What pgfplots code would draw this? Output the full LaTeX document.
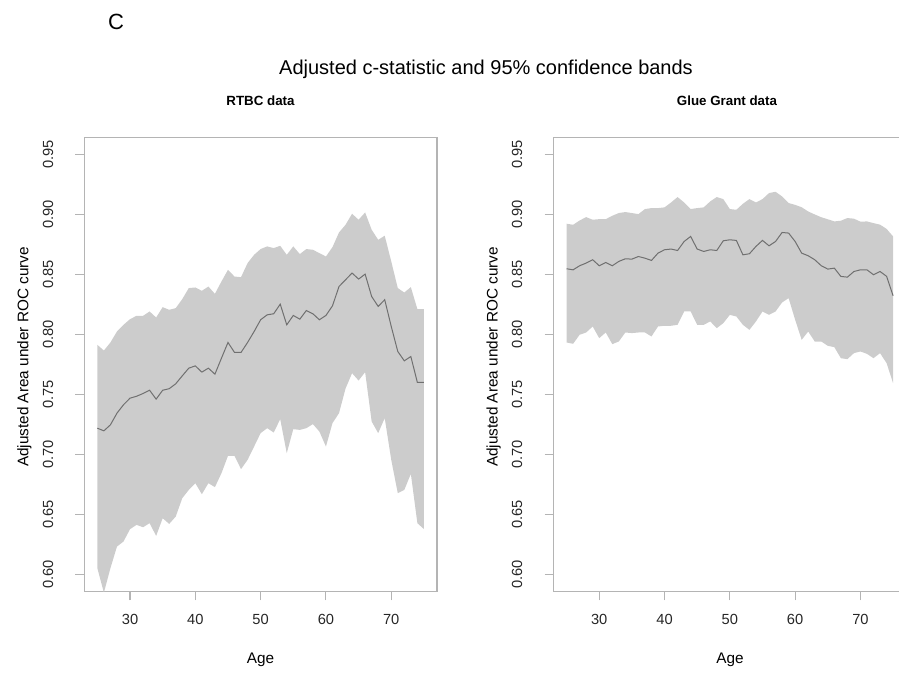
\documentclass[border=0pt]{standalone}
\usepackage{fontspec}
\setmainfont{Liberation Sans}
\usepackage{pgfplots}
\pgfplotsset{compat=1.18}
\usepackage{pgfplotstable}
\usepgfplotslibrary{fillbetween}
\definecolor{boxgray}{HTML}{B4B4B4}
\definecolor{bandgray}{HTML}{CCCCCC}
\definecolor{linegray}{HTML}{707070}

\pgfplotstableread{
age lo mean hi
25 0.6054 0.7220 0.7914
26 0.5850 0.7198 0.7867
27 0.6054 0.7248 0.7934
28 0.6234 0.7345 0.8025
29 0.6276 0.7415 0.8081
30 0.6379 0.7470 0.8128
31 0.6415 0.7486 0.8156
32 0.6395 0.7509 0.8156
33 0.6429 0.7536 0.8192
34 0.6323 0.7462 0.8142
35 0.6470 0.7536 0.8228
36 0.6423 0.7549 0.8206
37 0.6484 0.7590 0.8220
38 0.6637 0.7656 0.8295
39 0.6706 0.7720 0.8387
40 0.6762 0.7739 0.8392
41 0.6670 0.7687 0.8364
42 0.6762 0.7720 0.8400
43 0.6729 0.7670 0.8339
44 0.6845 0.7803 0.8442
45 0.6990 0.7934 0.8539
46 0.6990 0.7851 0.8483
47 0.6879 0.7851 0.8478
48 0.6956 0.7934 0.8595
49 0.7067 0.8025 0.8664
50 0.7179 0.8123 0.8712
51 0.7220 0.8164 0.8734
52 0.7184 0.8173 0.8720
53 0.7295 0.8253 0.8739
54 0.7012 0.8081 0.8664
55 0.7212 0.8159 0.8734
56 0.7206 0.8128 0.8670
57 0.7220 0.8200 0.8712
58 0.7254 0.8173 0.8706
59 0.7192 0.8123 0.8678
60 0.7067 0.8159 0.8650
61 0.7262 0.8239 0.8728
62 0.7345 0.8400 0.8850
63 0.7550 0.8456 0.8914
64 0.7678 0.8512 0.9006
65 0.7617 0.8462 0.8956
66 0.7687 0.8503 0.9017
67 0.7276 0.8317 0.8873
68 0.7179 0.8234 0.8789
69 0.7304 0.8290 0.8823
70 0.6956 0.8067 0.8609
71 0.6679 0.7859 0.8387
72 0.6706 0.7781 0.8350
73 0.6840 0.7817 0.8395
74 0.6429 0.7601 0.8212
75 0.6380 0.7601 0.8212
}\rtbc

\pgfplotstableread{
age lo mean hi
25 0.7934 0.8548 0.8923
26 0.7923 0.8539 0.8914
27 0.7998 0.8573 0.8950
28 0.8017 0.8595 0.8978
29 0.8067 0.8623 0.8956
30 0.7970 0.8573 0.8961
31 0.8017 0.8600 0.8961
32 0.7920 0.8573 0.8989
33 0.7942 0.8609 0.9012
34 0.8017 0.8631 0.9020
35 0.8012 0.8628 0.9012
36 0.8017 0.8650 0.9003
37 0.8017 0.8636 0.9045
38 0.7984 0.8617 0.9053
39 0.8067 0.8678 0.9053
40 0.8073 0.8706 0.9059
41 0.8073 0.8712 0.9100
42 0.8081 0.8700 0.9145
43 0.8192 0.8775 0.9100
44 0.8192 0.8817 0.9045
45 0.8081 0.8712 0.9053
46 0.8081 0.8692 0.9059
47 0.8109 0.8706 0.9109
48 0.8053 0.8700 0.9145
49 0.8095 0.8781 0.9128
50 0.8164 0.8789 0.9045
51 0.8150 0.8784 0.9039
52 0.8081 0.8664 0.9089
53 0.8039 0.8673 0.9128
54 0.8109 0.8734 0.9100
55 0.8192 0.8784 0.9128
56 0.8164 0.8739 0.9178
57 0.8192 0.8775 0.9189
58 0.8267 0.8850 0.9150
59 0.8303 0.8845 0.9095
60 0.8123 0.8775 0.9080
61 0.7956 0.8678 0.9060
62 0.8025 0.8656 0.9025
63 0.7942 0.8623 0.9000
64 0.7942 0.8573 0.8977
65 0.7906 0.8545 0.8960
66 0.7895 0.8553 0.8942
67 0.7803 0.8484 0.8948
68 0.7795 0.8478 0.8970
69 0.7845 0.8525 0.8965
70 0.7859 0.8539 0.8940
71 0.7839 0.8539 0.8942
72 0.7803 0.8498 0.8928
73 0.7845 0.8525 0.8915
74 0.7762 0.8485 0.8880
75 0.7595 0.8323 0.8817
}\glue

\pgfplotsset{panel/.style={
  scale only axis, width=264.5pt, height=340.4pt,
  anchor=south west,
  xmin=23, xmax=77, ymin=0.586, ymax=0.964,
  xtick={30,40,50,60,70},
  ytick={0.60,0.65,0.70,0.75,0.80,0.85,0.90,0.95},
  yticklabels={0.60,0.65,0.70,0.75,0.80,0.85,0.90,0.95},
  xtick pos=left, ytick pos=left,
  tick align=outside, major tick length=6.75pt,
  axis line style={boxgray, line width=0.8pt},
  tick style={boxgray, line width=0.8pt},
  /pgf/number format/assume math mode=true,
  tick label style={font=\fontsize{11}{13}\selectfont, text=black!85},
  xticklabel style={anchor=base, yshift=-18pt},
  yticklabel style={rotate=90, anchor=south, inner ysep=16.4pt},
}}

\begin{document}
\begin{tikzpicture}[x=0.75pt, y=0.75pt]

\begin{axis}[panel, at={(63.225pt,61.125pt)}]
\addplot[name path=hi, draw=none] table[x=age, y=hi] {\rtbc};
\addplot[name path=lo, draw=none] table[x=age, y=lo] {\rtbc};
\addplot[bandgray] fill between[of=hi and lo];
\addplot[linegray, line width=0.75pt] table[x=age, y=mean] {\rtbc};
\end{axis}

\begin{axis}[panel, at={(415.125pt,61.125pt)}]
\addplot[name path=hi, draw=none] table[x=age, y=hi] {\glue};
\addplot[name path=lo, draw=none] table[x=age, y=lo] {\glue};
\addplot[bandgray] fill between[of=hi and lo];
\addplot[linegray, line width=0.75pt] table[x=age, y=mean] {\glue};
\end{axis}

\node[font=\fontsize{16.5}{18}\selectfont, anchor=center] at (116,651) {C};
\node[font=\fontsize{15}{18}\selectfont, anchor=base] at (486,598) {Adjusted c-statistic and 95\% confidence bands};
\node[font=\bfseries\fontsize{10}{12}\selectfont, anchor=base] at (260.5,567) {RTBC data};
\node[font=\bfseries\fontsize{10}{12}\selectfont, anchor=base] at (727,567) {Glue Grant data};
\node[font=\fontsize{11.5}{13}\selectfont, rotate=90, anchor=base] at (28.4,316) {Adjusted Area under ROC curve};
\node[font=\fontsize{11.5}{13}\selectfont, rotate=90, anchor=base] at (497.6,316) {Adjusted Area under ROC curve};
\node[font=\fontsize{11.5}{13}\selectfont, anchor=base] at (260.5,9) {Age};
\node[font=\fontsize{11.5}{13}\selectfont, anchor=base] at (730,9) {Age};

\pgfresetboundingbox
\path[use as bounding box] (0,0) rectangle (899,673);
\end{tikzpicture}
\end{document}
